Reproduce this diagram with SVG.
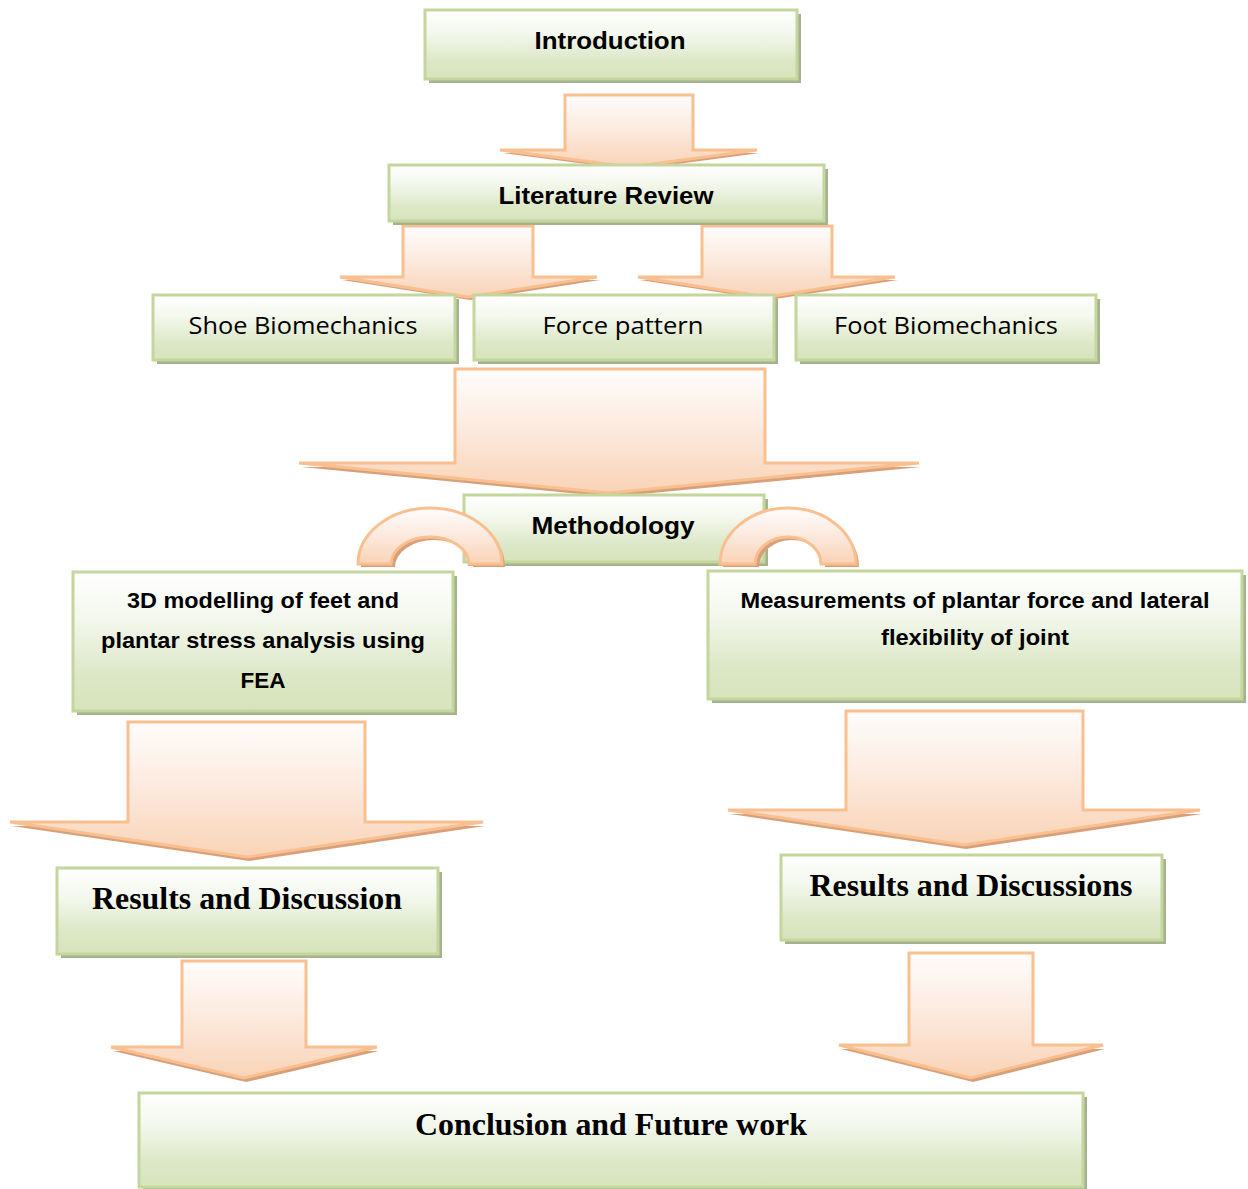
<svg xmlns="http://www.w3.org/2000/svg" width="1248" height="1189" viewBox="0 0 1248 1189">
<defs>
<linearGradient id="g" x1="0" y1="0" x2="0" y2="1">
<stop offset="0" stop-color="#ffffff"/>
<stop offset="0.35" stop-color="#f3f7ec"/>
<stop offset="0.75" stop-color="#dce7c6"/>
<stop offset="1" stop-color="#d7e4bd"/>
</linearGradient>
<linearGradient id="p" x1="0" y1="0" x2="0" y2="1">
<stop offset="0" stop-color="#fefdfc"/>
<stop offset="0.5" stop-color="#fce9dd"/>
<stop offset="1" stop-color="#f9d3b6"/>
</linearGradient>
<style>
.box{fill:url(#g);stroke:#c3d69b;stroke-width:3}
.sh{fill:#a6b28f}
.ar{fill:url(#p);stroke:#f9bf8f;stroke-width:3;stroke-linejoin:miter}
.ash{fill:#d8a07a}
.s{font-family:"Liberation Sans",Arial,sans-serif;font-weight:bold;fill:#000;text-anchor:middle}
.r{font-family:"Open Sans","Liberation Sans",sans-serif;fill:#000;text-anchor:middle}
.t{font-family:"Liberation Serif","Times New Roman",serif;font-weight:bold;fill:#000;text-anchor:middle}
</style>
</defs>
<rect width="1248" height="1189" fill="#fff"/>

<g id="connectors">
<path class="ash" d="M502,153 L760,153 L632,170 Z"/>
<path class="ar" d="M565,95 L693,95 L693,150 L757,150 L630,167 L500,150 L565,150 Z"/>
<path class="ash" d="M342,280 L600,280 L470,300 Z"/>
<path class="ar" d="M403,226 L533,226 L533,277 L597,277 L468,297 L340,277 L403,277 Z"/>
<path class="ash" d="M640,280 L898,280 L769,300 Z"/>
<path class="ar" d="M702,226 L832,226 L832,277 L895,277 L767,297 L638,277 L702,277 Z"/>
<path class="ash" d="M301,467 L921,467 L611,497 Z"/>
<path class="ar" d="M455,369 L765,369 L765,463 L919,463 L609,493 L299,463 L455,463 Z"/>
<path class="ash" d="M12,826 L485,826 L249,861 Z"/>
<path class="ar" d="M128,722 L365,722 L365,822 L483,822 L247,857 L10,822 L128,822 Z"/>
<path class="ash" d="M730,814 L1202,814 L966,849 Z"/>
<path class="ar" d="M846,711 L1083,711 L1083,810 L1200,810 L964,845 L728,810 L846,810 Z"/>
<path class="ash" d="M113,1051 L379,1051 L246,1082 Z"/>
<path class="ar" d="M182,961 L306,961 L306,1047 L377,1047 L244,1078 L111,1047 L182,1047 Z"/>
<path class="ash" d="M841,1049 L1105,1049 L973,1082 Z"/>
<path class="ar" d="M909,953 L1033,953 L1033,1045 L1103,1045 L971,1078 L839,1045 L909,1045 Z"/>
</g>

<g id="introduction">
<rect class="sh" x="429" y="14" width="372" height="69"/>
<rect class="box" x="425" y="10" width="372" height="69"/>
<text class="s" x="610" y="49" font-size="24" textLength="151" lengthAdjust="spacingAndGlyphs">Introduction</text>
</g>

<g id="literature-review">
<rect class="sh" x="393" y="169" width="435" height="56"/>
<rect class="box" x="389" y="165" width="435" height="56"/>
<text class="s" x="606" y="204" font-size="24" textLength="215" lengthAdjust="spacingAndGlyphs">Literature Review</text>
</g>

<g id="shoe-biomechanics">
<rect class="sh" x="157" y="299" width="302" height="65"/>
<rect class="box" x="153" y="295" width="302" height="65"/>
<text class="r" x="303" y="334" font-size="24" textLength="229" lengthAdjust="spacingAndGlyphs">Shoe Biomechanics</text>
</g>

<g id="force-pattern">
<rect class="sh" x="478" y="299" width="300" height="65"/>
<rect class="box" x="474" y="295" width="300" height="65"/>
<text class="r" x="623" y="334" font-size="24" textLength="161" lengthAdjust="spacingAndGlyphs">Force pattern</text>
</g>

<g id="foot-biomechanics">
<rect class="sh" x="800" y="299" width="300" height="65"/>
<rect class="box" x="796" y="295" width="300" height="65"/>
<text class="r" x="946" y="334" font-size="24" textLength="224" lengthAdjust="spacingAndGlyphs">Foot Biomechanics</text>
</g>

<g id="methodology">
<rect class="sh" x="468" y="499" width="300" height="67"/>
<rect class="box" x="464" y="495" width="300" height="67"/>
<text class="s" x="613" y="534" font-size="24" textLength="163" lengthAdjust="spacingAndGlyphs">Methodology</text>
</g>

<g id="arcs">
<path class="ash" d="M361,567 A72,56 0 0 1 505,567 L473,567 A39,27 0 0 0 395,567 Z"/>
<path class="ar" d="M358,564 A72,56 0 0 1 502,564 L469,564 A39,27 0 0 0 391,564 Z"/>
<path class="ash" d="M723,567 A68,56 0 0 1 859,567 L825,567 A33,27 0 0 0 759,567 Z"/>
<path class="ar" d="M720,564 A68,56 0 0 1 856,564 L821,564 A33,27 0 0 0 755,564 Z"/>
</g>

<g id="modelling">
<rect class="sh" x="77" y="576" width="380" height="139"/>
<rect class="box" x="73" y="572" width="380" height="139"/>
<text class="s" x="263" y="608" font-size="22" textLength="272" lengthAdjust="spacingAndGlyphs">3D modelling of feet and</text>
<text class="s" x="263" y="648" font-size="22" textLength="324" lengthAdjust="spacingAndGlyphs">plantar stress analysis using</text>
<text class="s" x="263" y="688" font-size="22" textLength="45" lengthAdjust="spacingAndGlyphs">FEA</text>
</g>

<g id="measurements">
<rect class="sh" x="712" y="575" width="534" height="128"/>
<rect class="box" x="708" y="571" width="534" height="128"/>
<text class="s" x="975" y="608" font-size="22" textLength="469" lengthAdjust="spacingAndGlyphs">Measurements of plantar force and lateral</text>
<text class="s" x="975" y="645" font-size="22" textLength="188" lengthAdjust="spacingAndGlyphs">flexibility of joint</text>
</g>

<g id="results-left">
<rect class="sh" x="61" y="872" width="381" height="86"/>
<rect class="box" x="57" y="868" width="381" height="86"/>
<text class="t" x="247" y="909" font-size="31" textLength="310" lengthAdjust="spacingAndGlyphs">Results and Discussion</text>
</g>

<g id="results-right">
<rect class="sh" x="785" y="859" width="381" height="85"/>
<rect class="box" x="781" y="855" width="381" height="85"/>
<text class="t" x="971" y="896" font-size="31" textLength="323" lengthAdjust="spacingAndGlyphs">Results and Discussions</text>
</g>

<g id="conclusion">
<rect class="sh" x="143" y="1097" width="944" height="94"/>
<rect class="box" x="139" y="1093" width="944" height="94"/>
<text class="t" x="611" y="1135" font-size="31" textLength="392" lengthAdjust="spacingAndGlyphs">Conclusion and Future work</text>
</g>
</svg>
